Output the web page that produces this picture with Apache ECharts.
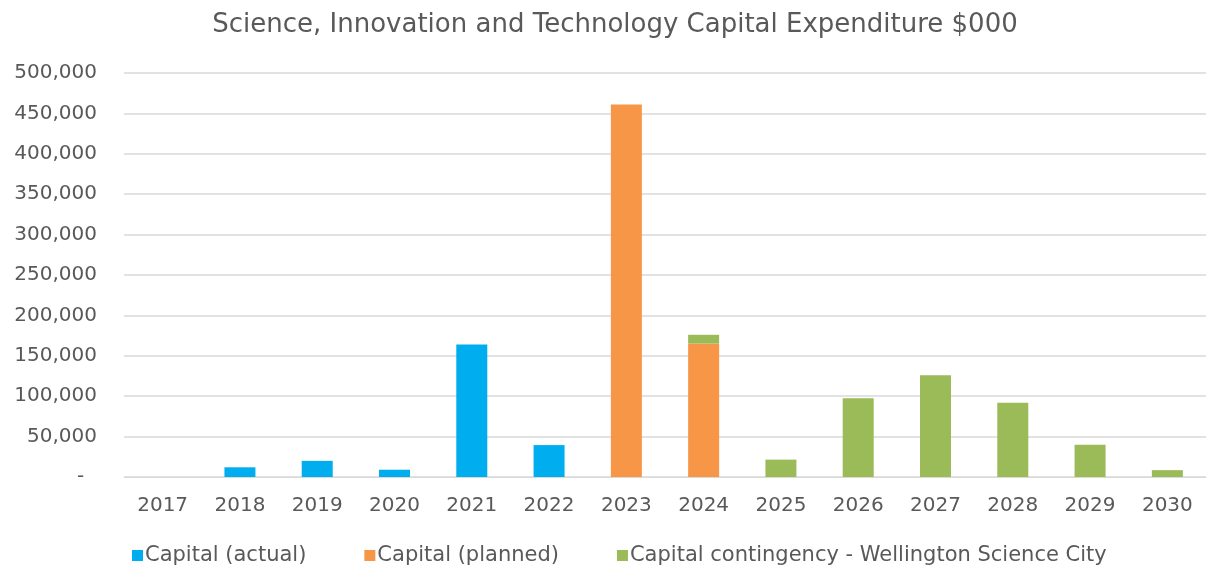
<!DOCTYPE html>
<html>
<head>
<meta charset="utf-8">
<script src="https://cdn.jsdelivr.net/npm/echarts@6/dist/echarts.min.js"></script>
<style>html,body{margin:0;padding:0;background:#fff}#c{width:1208px;height:572px}</style>
</head>
<body>
<div id="c"></div>
<script>
const categories = ['2017','2018','2019','2020','2021','2022','2023','2024','2025','2026','2027','2028','2029','2030'];
const capitalActual = [null, 12000, 20000, 9000, 164000, 39500, null, null, null, null, null, null, null, null];
const capitalPlanned = [null, null, null, null, null, null, 461000, 165000, null, null, null, null, null, null];
const capitalContingency = [null, null, null, null, null, null, null, 11000, 21500, 97500, 126000, 92000, 40000, 8500];
const yTicks = {min: 0, max: 500000, interval: 50000};

const chart = echarts.init(document.getElementById('c'));
const font = '"DejaVu Sans", sans-serif';
const txt = '#595959';
chart.setOption({
  animation: false,
  title: {
    text: 'Science, Innovation and Technology Capital Expenditure $000',
    left: 610, textAlign: 'center', top: 7,
    textStyle: {fontFamily: font, fontSize: 26, fontWeight: 'normal', color: txt}
  },
  legend: {
    left: 127, top: 540, itemWidth: 11, itemHeight: 11, itemGap: 58,
    icon: 'rect',
    textStyle: {fontFamily: font, fontSize: 21, color: txt, padding: [0,0,0,-3]},
    data: ['Capital (actual)', 'Capital (planned)', 'Capital contingency - Wellington Science City']
  },
  grid: {left: 124, right: 2, top: 73, bottom: 95, containLabel: false},
  xAxis: {
    type: 'category', data: categories,
    axisLine: {show: true, lineStyle: {color: '#d9d9d9', width: 1}},
    axisTick: {show: false},
    axisLabel: {fontFamily: font, fontSize: 20, color: txt, margin: 19}
  },
  yAxis: {
    type: 'value', min: yTicks.min, max: yTicks.max, interval: yTicks.interval,
    axisLine: {show: false}, axisTick: {show: false},
    splitLine: {lineStyle: {color: '#d9d9d9', width: 1.5}},
    axisLabel: {
      fontFamily: font, fontSize: 20, color: txt, margin: 27,
      formatter: v => v === 0 ? '-  ' : v.toLocaleString('en-US')
    }
  },
  series: [
    {name: 'Capital (actual)', type: 'bar', stack: 'a', data: capitalActual, barWidth: 31, itemStyle: {color: '#00AEEF'}},
    {name: 'Capital (planned)', type: 'bar', stack: 'a', data: capitalPlanned, barWidth: 31, itemStyle: {color: '#F79646'}},
    {name: 'Capital contingency - Wellington Science City', type: 'bar', stack: 'a', data: capitalContingency, barWidth: 31, itemStyle: {color: '#9BBB59'}}
  ]
});
</script>
</body>
</html>
